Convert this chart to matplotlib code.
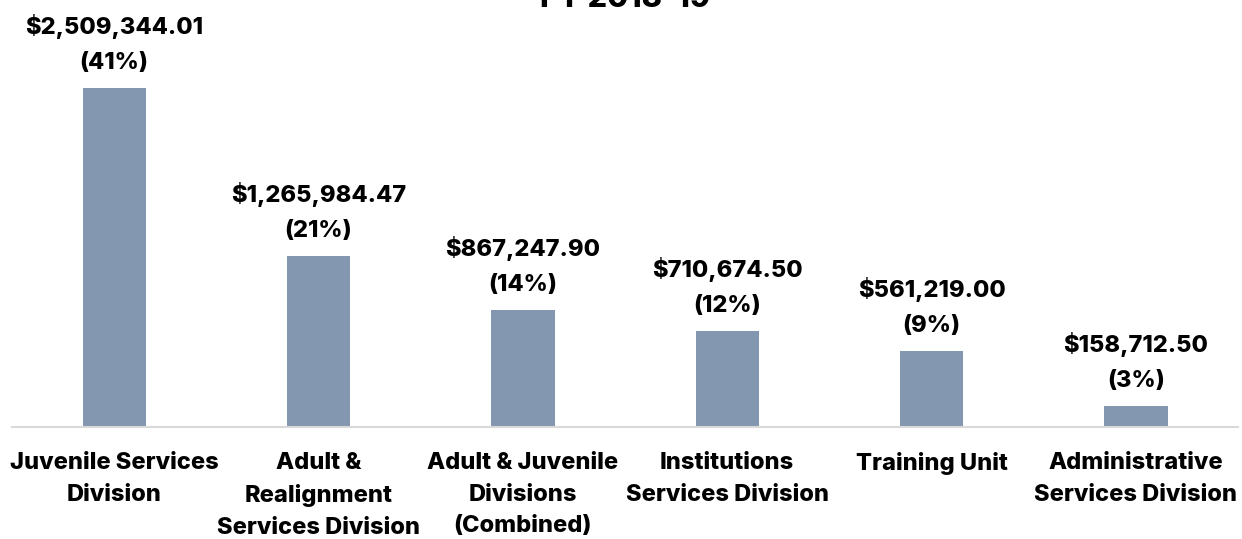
import matplotlib
matplotlib.use('Agg')
import matplotlib.pyplot as plt

plt.rcParams['font.family'] = ['Inter', 'DejaVu Sans']

categories = ["Juvenile Services\nDivision",
              "Adult &\nRealignment\nServices Division",
              "Adult & Juvenile\nDivisions\n(Combined)",
              "Institutions\nServices Division",
              "Training Unit",
              "Administrative\nServices Division"]
amounts = [2509344.01, 1265984.47, 867247.90, 710674.50, 561219.00, 158712.50]
title = "FY 2018-19"

total = sum(amounts)

fig = plt.figure(figsize=(12.42, 5.39), dpi=100)
ax = fig.add_axes([0.0097, 0.2078, 0.9871, 0.7922])

x = range(len(amounts))
ax.bar(x, amounts, width=0.31, color='#8497B0', zorder=2)

for i, v in enumerate(amounts):
    label = f"${v:,.2f}\n({v / total * 100:.0f}%)"
    ax.annotate(label, xy=(i, v), xytext=(0, 10), textcoords='offset points',
                ha='center', va='bottom', fontsize=17, fontweight='heavy',
                linespacing=1.77, color='black')

ax.set_xlim(-0.5, len(amounts) - 0.5)
ax.set_ylim(0, 3.16e6)
ax.set_xticks(list(x))
ax.set_xticklabels(categories, fontsize=17, fontweight='heavy', linespacing=1.56)
ax.tick_params(axis='x', length=0, pad=18)
ax.set_yticks([])
for s in ['top', 'right', 'left']:
    ax.spines[s].set_visible(False)
ax.spines['bottom'].set_color('#D9D9D9')
ax.spines['bottom'].set_linewidth(1.5)

fig.text(0.503, 1 - 7 / 539, title, ha='center', va='baseline',
         fontsize=22, fontweight='heavy')

fig.savefig('out.png', dpi=100)
